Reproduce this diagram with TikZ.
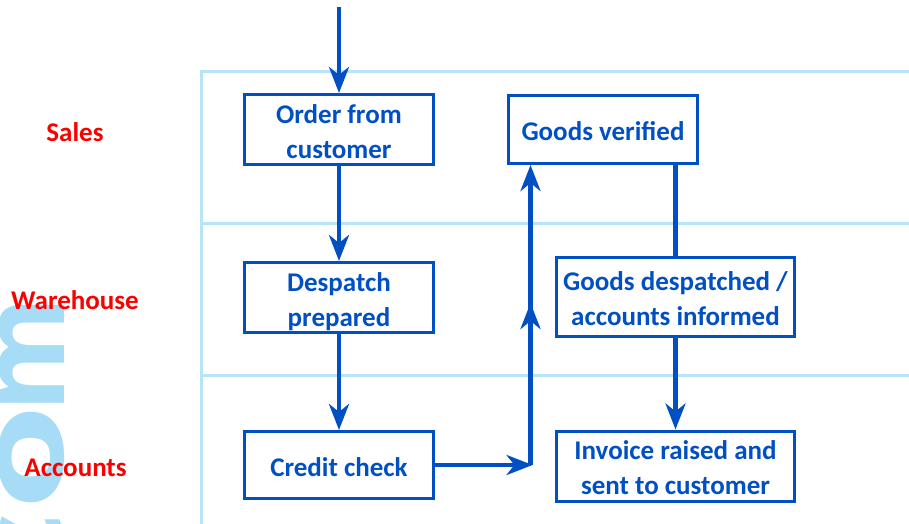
\documentclass[tikz,border=0pt]{standalone}
\usepackage{fontspec}
\setmainfont{Carlito}
\newfontfamily\wmfont{Open Sans}
\usetikzlibrary{arrows.meta}
\definecolor{flowblue}{RGB}{0,80,195}
\definecolor{lanecol}{RGB}{184,228,248}
\definecolor{wmcol}{RGB}{166,220,246}
\definecolor{lanered}{RGB}{250,0,0}
\newcommand{\boxtext}[1]{\raisebox{-4pt}[\height][\depth]{\begin{tabular}{@{}c@{}}#1\end{tabular}}}
\tikzset{
  stepbox/.style={draw=flowblue, line width=3pt, fill=white, text=flowblue,
    align=center, inner sep=0pt, font=\bfseries\fontsize{27}{35}\selectfont},
  lanelabel/.style={text=lanered, inner sep=0pt, font=\bfseries\fontsize{27}{32}\selectfont},
  laneline/.style={draw=lanecol, line width=3pt},
  flow/.style={draw=flowblue, line width=4.3pt},
  arr/.style={flow, -{Stealth[length=26pt, width=20pt, inset=8pt]}},
  wmletter/.style={text=wmcol, inner sep=0pt, font=\wmfont\bfseries\fontsize{118}{118}\selectfont}
}
\begin{document}
\begin{tikzpicture}[x=1pt,y=-1pt]
\useasboundingbox (0,0) rectangle (909,524);
% watermark
\begin{scope}
  \clip (0,0) rectangle (909,524);
  \node[wmletter, cm={0,1,-1,0,(0,0)}] (wmm) at (31.5,355) {m};
  \node[wmletter, cm={0,1.45,-1,0,(0,0)}] (wmo) at (31.5,457.5) {o};
  \node[wmletter, cm={0,1.45,-1,0,(0,0)}] (wmc) at (31.5,556) {c};
\end{scope}
% lanes
\coordinate (laneTL) at (201,72);
\coordinate (laneTR) at (909,72);
\coordinate (laneB) at (201,524);
\coordinate (div1L) at (201,223);
\coordinate (div1R) at (909,223);
\coordinate (div2L) at (201,375);
\coordinate (div2R) at (909,375);
\draw[laneline] (laneTR) -- (laneTL) -- (laneB);
\draw[laneline] (div1L) -- (div1R);
\draw[laneline] (div2L) -- (div2R);
% lane labels
\node[lanelabel] (sales) at (75,132) {Sales};
\node[lanelabel] (warehouse) at (75,300) {Warehouse};
\node[lanelabel] (accounts) at (75.5,468) {Accounts};
% boxes
\node[stepbox, minimum width=189pt, minimum height=68pt] (order) at (339,129.5) {\boxtext{Order from\\customer}};
\node[stepbox, minimum width=189pt, minimum height=68pt] (verified) at (603,129.5) {\boxtext{Goods verified}};
\node[stepbox, minimum width=189pt, minimum height=68pt] (despatch) at (339,297.5) {\boxtext{Despatch\\prepared}};
\node[stepbox, minimum width=238pt, minimum height=79pt] (goodsdesp) at (675.5,297) {\boxtext{Goods despatched /\\accounts informed}};
\node[stepbox, minimum width=189pt, minimum height=67pt] (credit) at (339,465) {\boxtext{Credit check}};
\node[stepbox, minimum width=238pt, minimum height=69pt] (invoice) at (675.5,466) {\boxtext{Invoice raised and\\sent to customer}};
% connectors
\coordinate (start) at (339,7);
\coordinate (turn) at (530.5,465);
\coordinate (mid) at (530.5,303);
\draw[arr] (start) -- (order.north);
\draw[arr] (order.south) -- (despatch.north);
\draw[arr] (despatch.south) -- (credit.north);
\draw[arr] (credit.east) -- ([xshift=2pt]turn);
\draw[flow] ([yshift=2.15pt]turn) -- (mid);
\draw[arr] (turn) -- (mid);
\draw[arr] (mid) -- (verified.south -| mid);
\draw[flow] (verified.south -| goodsdesp.north) -- (goodsdesp.north);
\draw[arr] (goodsdesp.south) -- (invoice.north);
\end{tikzpicture}
\end{document}
